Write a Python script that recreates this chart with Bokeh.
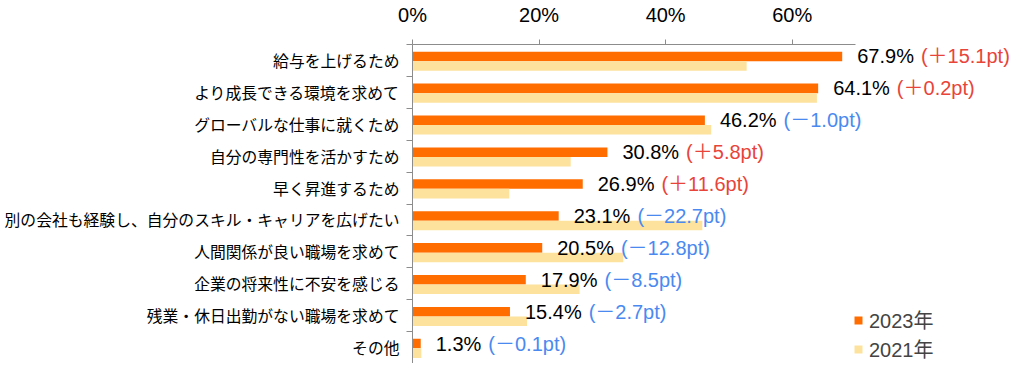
from bokeh.plotting import figure
from bokeh.models import (ColumnDataSource, Range1d, FixedTicker, PrintfTickFormatter,
                          LabelSet, Legend, LegendItem)
from bokeh.core.properties import value
from bokeh.embed import file_html
from bokeh.resources import INLINE

categories = [
    "給与を上げるため",
    "より成長できる環境を求めて",
    "グローバルな仕事に就くため",
    "自分の専門性を活かすため",
    "早く昇進するため",
    "別の会社も経験し、自分のスキル・キャリアを広げたい",
    "人間関係が良い職場を求めて",
    "企業の将来性に不安を感じる",
    "残業・休日出勤がない職場を求めて",
    "その他",
]
v2023 = [67.9, 64.1, 46.2, 30.8, 26.9, 23.1, 20.5, 17.9, 15.4, 1.3]
v2021 = [52.8, 63.9, 47.2, 25.0, 15.3, 45.8, 33.3, 26.4, 18.1, 1.4]
diff = [15.1, 0.2, -1.0, 5.8, 11.6, -22.7, -12.8, -8.5, -2.7, -0.1]
x_ticks = [0, 20, 40, 60]
axis_max = 70
series_names = ["2023年", "2021年"]

C23 = "#FF6C00"
C21 = "#FCE29C"
RED = "#E8443A"
BLUE = "#4A8AF0"
NUM_FONT = "Liberation Sans, Noto Sans CJK JP"
LBL_SIZE = 20
PCT_OFF = 15

W, H = 1018, 363
LEFT, TOP, BOTTOM = 412, 43, 0
AXIS_PX = 443  # pixel length of 0..axis_max
frame_w = W - LEFT
x_end = axis_max * frame_w / AXIS_PX

cw = {'.': 0.278, '%': 0.889}
def tw(s):
    return sum(cw.get(c, 0.556) for c in s) * LBL_SIZE

n = len(categories)
pct = [f"{v:.1f}%" for v in v2023]
dtxt = [f"(＋{d:.1f}pt)" if d > 0 else f"(－{abs(d):.1f}pt)" for d in diff]
src = ColumnDataSource(dict(
    y23=[i + 0.375 for i in range(n)],
    y21=[i + 0.675 for i in range(n)],
    yc=[i + 0.5 for i in range(n)],
    v23=v2023, v21=v2021, pct=pct, dtxt=dtxt,
    dcol=[RED if d > 0 else BLUE for d in diff],
    doff=[PCT_OFF + tw(s) + 7 for s in pct],
))

p = figure(width=W, height=H, x_range=Range1d(0, x_end), y_range=Range1d(n, 0),
           output_backend="svg", toolbar_location=None, x_axis_location="above",
           min_border_left=LEFT, min_border_right=0, min_border_top=TOP, min_border_bottom=BOTTOM)
p.outline_line_color = None
p.grid.visible = False
p.background_fill_color = "white"

r23 = p.hbar(y="y23", left=0, right="v23", height=0.3, source=src, color=C23, line_color=None)
r21 = p.hbar(y="y21", left=0, right="v21", height=0.3, source=src, color=C21, line_color=None)

xa = p.xaxis[0]
xa.bounds = (0, axis_max)
xa.ticker = FixedTicker(ticks=x_ticks, minor_ticks=[])
xa.formatter = PrintfTickFormatter(format="%d%%")
xa.axis_line_color = "#8C8C8C"
xa.major_tick_line_color = "#8C8C8C"
xa.major_tick_out = 5
xa.major_tick_in = 0
xa.major_label_text_font = "Liberation Sans"
xa.major_label_text_font_size = "20px"
xa.major_label_text_color = "black"
xa.major_label_standoff = 14

ya = p.yaxis[0]
ya.ticker = FixedTicker(ticks=[i + 0.5 for i in range(n)], minor_ticks=list(range(n + 1)))
ya.major_label_overrides = {i + 0.5: c for i, c in enumerate(categories)}
ya.axis_line_color = "#8C8C8C"
ya.major_tick_line_color = None
ya.major_tick_out = 0
ya.major_tick_in = 0
ya.minor_tick_line_color = "#8C8C8C"
ya.minor_tick_out = 6
ya.minor_tick_in = 0
ya.major_label_text_font = "Noto Sans CJK JP"
ya.major_label_text_font_size = "15.8px"
ya.major_label_text_color = "black"
ya.major_label_standoff = 7

p.add_layout(LabelSet(x="v23", y="yc", text="pct", source=src, x_offset=PCT_OFF, y_offset=4,
                      text_font=value(NUM_FONT), text_font_size=value(f"{LBL_SIZE}px"),
                      text_color="black", text_baseline="middle", text_align="left"))
p.add_layout(LabelSet(x="v23", y="yc", text="dtxt", source=src, x_offset="doff", y_offset=4,
                      text_font=value(NUM_FONT), text_font_size=value(f"{LBL_SIZE}px"),
                      text_color="dcol", text_baseline="middle", text_align="left"))

legend = Legend(items=[LegendItem(label=series_names[0], renderers=[r23]),
                       LegendItem(label=series_names[1], renderers=[r21])],
                location=(441, 0), orientation="vertical",
                background_fill_alpha=0, border_line_color=None, padding=0, margin=0,
                spacing=-3, label_height=20, glyph_height=10, glyph_width=10,
                label_standoff=6, label_text_font=NUM_FONT, label_text_font_size="20px")
p.add_layout(legend, "center")

open("out.html", "w").write(file_html(p, INLINE))
